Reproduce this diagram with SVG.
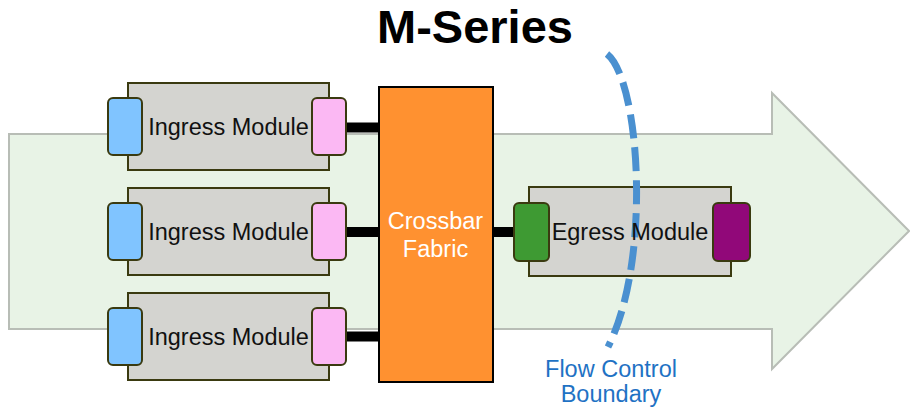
<svg xmlns="http://www.w3.org/2000/svg" width="910" height="407" viewBox="0 0 910 407">
<style>
.box{fill:#D4D4D0;stroke:#3A3A10;stroke-width:2}
.port{stroke:#3A3A10;stroke-width:2}
.in{fill:#80C4FF}
.out{fill:#FBB8F3}
.lbl{font-family:"Liberation Sans",Arial,sans-serif;font-size:23.5px;fill:#111;text-anchor:middle}
.bar{stroke:#000;stroke-width:10}
</style>
<g id="flow-arrow">
<polygon points="9,134 772,134 772,93 909,231 772,369 772,329 9,329" fill="#E8F3E6" stroke="#B8BDB6" stroke-width="2"/>
</g>
<text x="475" y="43" font-family="Liberation Sans,Arial,sans-serif" font-size="47" font-weight="bold" text-anchor="middle" fill="#000">M-Series</text>
<g id="connectors">
<line class="bar" x1="346" y1="127.5" x2="380" y2="127.5"/>
<line class="bar" x1="346" y1="232" x2="380" y2="232"/>
<line class="bar" x1="346" y1="336.5" x2="380" y2="336.5"/>
<line class="bar" x1="492" y1="232" x2="514" y2="232"/>
</g>
<g id="ingress1">
<rect class="box" x="128" y="83" width="201" height="87"/>
<rect class="port in" x="108" y="98" width="34" height="57" rx="5"/>
<rect class="port out" x="312" y="98" width="34" height="57" rx="5"/>
<text class="lbl" x="228.5" y="134.5">Ingress Module</text>
</g>
<g id="ingress2">
<rect class="box" x="128" y="188" width="201" height="87"/>
<rect class="port in" x="108" y="203" width="34" height="57" rx="5"/>
<rect class="port out" x="312" y="203" width="34" height="57" rx="5"/>
<text class="lbl" x="228.5" y="239.5">Ingress Module</text>
</g>
<g id="ingress3">
<rect class="box" x="128" y="293" width="201" height="87"/>
<rect class="port in" x="108" y="308" width="34" height="57" rx="5"/>
<rect class="port out" x="312" y="308" width="34" height="57" rx="5"/>
<text class="lbl" x="228.5" y="344.5">Ingress Module</text>
</g>
<g id="crossbar">
<rect x="379" y="87" width="114" height="295" fill="#FF9130" stroke="#000" stroke-width="2"/>
<text x="435.5" y="229" font-family="Liberation Sans,Arial,sans-serif" font-size="23.5" fill="#fff" text-anchor="middle">Crossbar</text>
<text x="435.5" y="257" font-family="Liberation Sans,Arial,sans-serif" font-size="23.5" fill="#fff" text-anchor="middle">Fabric</text>
</g>
<g id="egress">
<rect class="box" x="529" y="187" width="202" height="89"/>
<rect class="port" x="514" y="203" width="35" height="58" rx="5" fill="#3E9A33"/>
<rect class="port" x="713" y="203" width="37" height="58" rx="5" fill="#910879"/>
</g>
<g id="flow-control-boundary">
<path d="M607,54 C640,80 652,260 608,347" fill="none" stroke="#4A90D0" stroke-width="7" stroke-dasharray="24 9"/>
<text x="611" y="377" font-family="Liberation Sans,Arial,sans-serif" font-size="23.5" fill="#1F72C4" text-anchor="middle">Flow Control</text>
<text x="611" y="402" font-family="Liberation Sans,Arial,sans-serif" font-size="23.5" fill="#1F72C4" text-anchor="middle">Boundary</text>
</g>
<g id="egress-label">
<text class="lbl" x="630" y="239.5">Egress Module</text>
</g>
</svg>
